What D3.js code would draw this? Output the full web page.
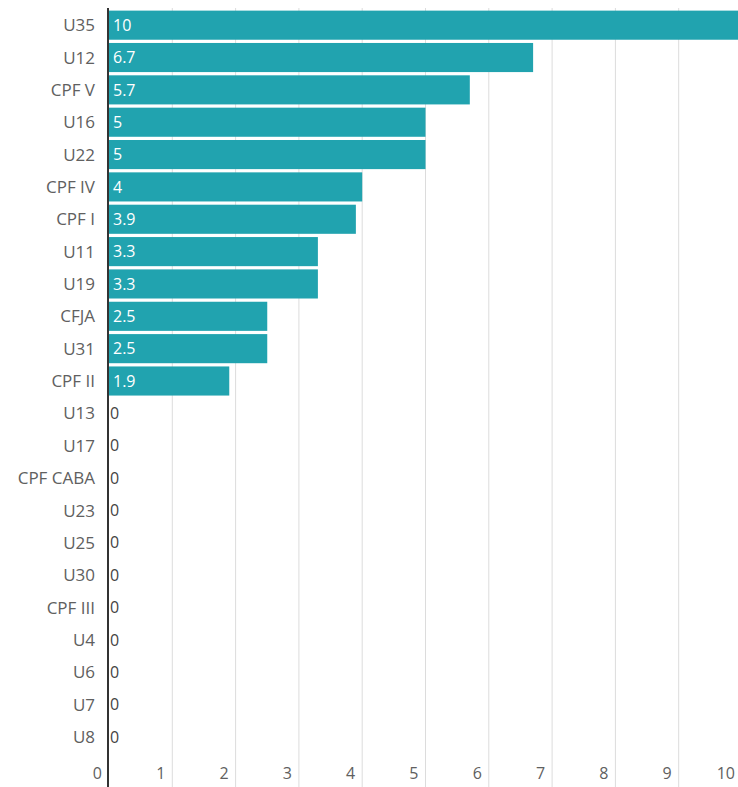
<!DOCTYPE html>
<html>
<head>
<meta charset="utf-8">
<script src="https://cdn.jsdelivr.net/npm/d3@7"></script>
<style>
  body { margin: 0; background: #fff; }
  text { font-family: "Open Sans", Lato, sans-serif; }
</style>
</head>
<body>
<div class="chart"></div>
<script>
var categories = ["U35","U12","CPF V","U16","U22","CPF IV","CPF I","U11","U19","CFJA","U31","CPF II",
  "U13","U17","CPF CABA","U23","U25","U30","CPF III","U4","U6","U7","U8"];
var values = [10,6.7,5.7,5,5,4,3.9,3.3,3.3,2.5,2.5,1.9,0,0,0,0,0,0,0,0,0,0,0];
var ticks = [0,1,2,3,4,5,6,7,8,9,10];

var width = 738, height = 787;
var marginLeft = 109, marginRight = 742, plotTop = 9, plotBottom = 753;

var svg = d3.select(".chart").append("svg")
  .attr("width", width).attr("height", height);

var x = d3.scaleLinear().domain([0, 10]).range([marginLeft, marginRight]);
var y = d3.scaleBand().domain(categories).range([plotTop, plotBottom])
  .paddingInner(0.1).paddingOuter(0.05);

// grid
svg.append("g").selectAll("line")
  .data(ticks.slice(1))
  .enter().append("line")
  .attr("x1", function (d) { return x(d); })
  .attr("x2", function (d) { return x(d); })
  .attr("y1", 8).attr("y2", height)
  .attr("stroke", "#dcdcdc").attr("stroke-width", 1);

// bars
svg.append("g").selectAll("rect")
  .data(values)
  .enter().append("rect")
  .attr("x", x(0))
  .attr("y", function (d, i) { return y(categories[i]); })
  .attr("width", function (d) { return x(d) - x(0); })
  .attr("height", y.bandwidth())
  .attr("fill", "#21a3af");

// value labels
svg.append("g").selectAll("text")
  .data(values)
  .enter().append("text")
  .attr("x", function (d) { return d > 0 ? x(0) + 4 : x(0) + 1; })
  .attr("y", function (d, i) { return y(categories[i]) + y.bandwidth() / 2; })
  .attr("dy", "0.36em")
  .attr("font-size", 16)
  .attr("fill", function (d) { return d > 0 ? "#fff" : "#444"; })
  .text(function (d) { return d; });

// category labels
svg.append("g").selectAll("text")
  .data(categories)
  .enter().append("text")
  .attr("x", 95)
  .attr("y", function (d) { return y(d) + y.bandwidth() / 2; })
  .attr("dy", "0.36em")
  .attr("text-anchor", "end")
  .attr("font-size", 17)
  .attr("fill", "#606060")
  .text(function (d) { return d; });

// x tick labels
svg.append("g").selectAll("text")
  .data(ticks)
  .enter().append("text")
  .attr("x", function (d) { return x(d) - 7; })
  .attr("y", 773)
  .attr("dy", "0.36em")
  .attr("text-anchor", "end")
  .attr("font-size", 16)
  .attr("fill", "#606060")
  .text(function (d) { return d; });

// axis line
svg.append("line")
  .attr("x1", x(0) - 1).attr("x2", x(0) - 1)
  .attr("y1", 8).attr("y2", height)
  .attr("stroke", "#333").attr("stroke-width", 2);
</script>
</body>
</html>
